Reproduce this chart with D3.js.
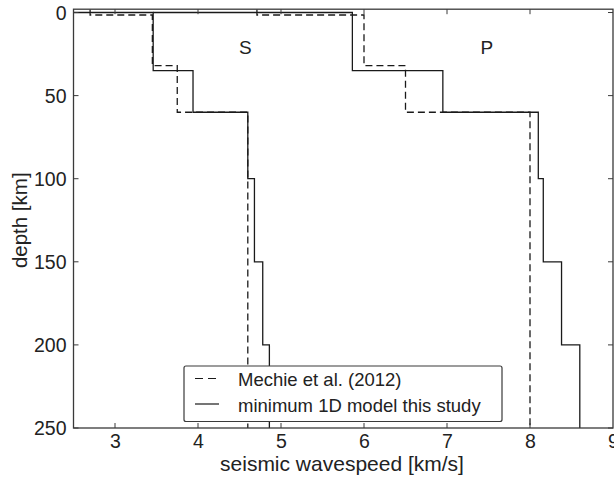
<!DOCTYPE html>
<html>
<head>
<meta charset="utf-8">
<script src="https://cdn.jsdelivr.net/npm/d3@7"></script>
<style>
  html, body { margin: 0; padding: 0; background: #fff; }
  svg { display: block; font-family: "Liberation Sans", Arial, Helvetica, sans-serif; }
</style>
</head>
<body>
<svg id="chart" width="614" height="479"></svg>
<script>
// Layer tops [km] and velocities [km/s] for the two 1D models
const solidTops = [0, 35, 60, 100, 150, 200];
const sSolidVel = [3.46, 3.94, 4.60, 4.68, 4.78, 4.86];
const pSolidVel = [5.86, 6.95, 8.10, 8.16, 8.38, 8.60];
// surface velocity each solid curve starts from (drawn along depth 0)
const solidSurfaceVel = { S: 2.4, P: 3.46 };

const mechieTops = [-2, 1.5, 32, 60];
const sMechieVel = [2.70, 3.45, 3.75, 4.60];
const pMechieVel = [4.71, 6.00, 6.50, 8.00];

const maxDepth = 250;
const xTicks = [3, 4, 5, 6, 7, 8, 9];
const yTicks = [0, 50, 100, 150, 200, 250];
const legendLabels = ["Mechie et al. (2012)", "minimum 1D model this study"];
const waveLabels = [{ name: "S", v: 4.57, d: 21 }, { name: "P", v: 7.48, d: 21 }];

const svg = d3.select("#chart");
const plotL = 73.5, plotR = 613, plotT = 9.2, plotB = 428;

const x = d3.scaleLinear().domain([2.5, 9]).range([plotL, plotR]);
const y = d3.scaleLinear().domain([-2, maxDepth]).range([plotT, plotB]);

svg.append("defs").append("clipPath").attr("id", "plotClip")
  .append("rect").attr("x", plotL).attr("y", plotT)
  .attr("width", plotR - plotL).attr("height", plotB - plotT);

// turn layered model into a staircase of (velocity, depth) vertices
function stairs(tops, vels, startV) {
  const pts = [];
  if (startV !== undefined) pts.push([startV, tops[0]]);
  vels.forEach((v, i) => {
    const t = tops[i];
    const b = i + 1 < tops.length ? tops[i + 1] : maxDepth;
    pts.push([v, t], [v, b]);
  });
  return pts;
}

const line = d3.line().x(p => x(p[0])).y(p => y(p[1]));
const plot = svg.append("g").attr("clip-path", "url(#plotClip)");

const curves = [
  { pts: stairs(mechieTops, sMechieVel), dash: "7,4" },
  { pts: stairs(mechieTops, pMechieVel), dash: "7,4" },
  { pts: stairs(solidTops, sSolidVel, solidSurfaceVel.S), dash: null },
  { pts: stairs(solidTops, pSolidVel, solidSurfaceVel.P), dash: null }
];
curves.forEach(c => {
  plot.append("path").attr("d", line(c.pts))
    .attr("fill", "none").attr("stroke", "#1a1a1a")
    .attr("stroke-width", 1.3)
    .attr("stroke-dasharray", c.dash);
});

// wave type labels
waveLabels.forEach(w => {
  svg.append("text").attr("x", x(w.v)).attr("y", y(w.d) + 7)
    .attr("text-anchor", "middle").attr("font-size", 19).attr("fill", "#222")
    .text(w.name);
});

// frame and inward ticks on all four sides
const frameColor = "#3a3a3a";
const tl = 5;
const axB = d3.axisBottom(x).tickValues(xTicks).tickSize(0).tickFormat(d3.format("d"));
const gB = svg.append("g").attr("transform", `translate(0,${plotB})`).call(axB);
gB.select(".domain").remove();
gB.selectAll("text").attr("font-size", 19.5).attr("fill", "#222").attr("dy", "0").attr("y", 20);

const axL = d3.axisLeft(y).tickValues(yTicks).tickSize(0);
const gL = svg.append("g").attr("transform", `translate(${plotL},0)`).call(axL);
gL.select(".domain").remove();
gL.selectAll("text").attr("font-size", 19.5).attr("fill", "#222").attr("x", -7).attr("dy", "0.35em");

const ticks = svg.append("g").attr("stroke", frameColor).attr("stroke-width", 1);
xTicks.filter(v => x(v) < plotR - 1).forEach(v => {
  ticks.append("line").attr("x1", x(v)).attr("x2", x(v)).attr("y1", plotB).attr("y2", plotB - tl);
  ticks.append("line").attr("x1", x(v)).attr("x2", x(v)).attr("y1", plotT).attr("y2", plotT + tl);
});
yTicks.forEach(v => {
  ticks.append("line").attr("x1", plotL).attr("x2", plotL + tl).attr("y1", y(v)).attr("y2", y(v));
  ticks.append("line").attr("x1", plotR).attr("x2", plotR - tl).attr("y1", y(v)).attr("y2", y(v));
});

svg.append("rect").attr("x", plotL).attr("y", plotT)
  .attr("width", plotR - plotL).attr("height", plotB - plotT)
  .attr("fill", "none").attr("stroke", frameColor).attr("stroke-width", 1.3);

// axis titles
svg.append("text").attr("x", 342).attr("y", 471)
  .attr("text-anchor", "middle").attr("font-size", 21).attr("fill", "#222")
  .text("seismic wavespeed [km/s]");
svg.append("text").attr("transform", `translate(27,${(y(0) + plotB) / 2}) rotate(-90)`)
  .attr("text-anchor", "middle").attr("font-size", 20.5).attr("fill", "#222")
  .text("depth [km]");

// legend
const lg = svg.append("g");
lg.append("rect").attr("x", 184).attr("y", 366).attr("width", 318).attr("height", 55.5)
  .attr("rx", 2).attr("fill", "#fff").attr("stroke", frameColor).attr("stroke-width", 1.2);
const rows = [
  { label: legendLabels[0], dash: "8,5", ly: 378.5, ty: 385.5 },
  { label: legendLabels[1], dash: null, ly: 404, ty: 411.5 }
];
rows.forEach(r => {
  lg.append("line").attr("x1", 195).attr("x2", r.dash ? 216 : 219).attr("y1", r.ly).attr("y2", r.ly)
    .attr("stroke", "#1a1a1a").attr("stroke-width", 1.2).attr("stroke-dasharray", r.dash);
  lg.append("text").attr("x", 238).attr("y", r.ty).attr("font-size", 18.5).attr("fill", "#222")
    .text(r.label);
});
</script>
</body>
</html>
